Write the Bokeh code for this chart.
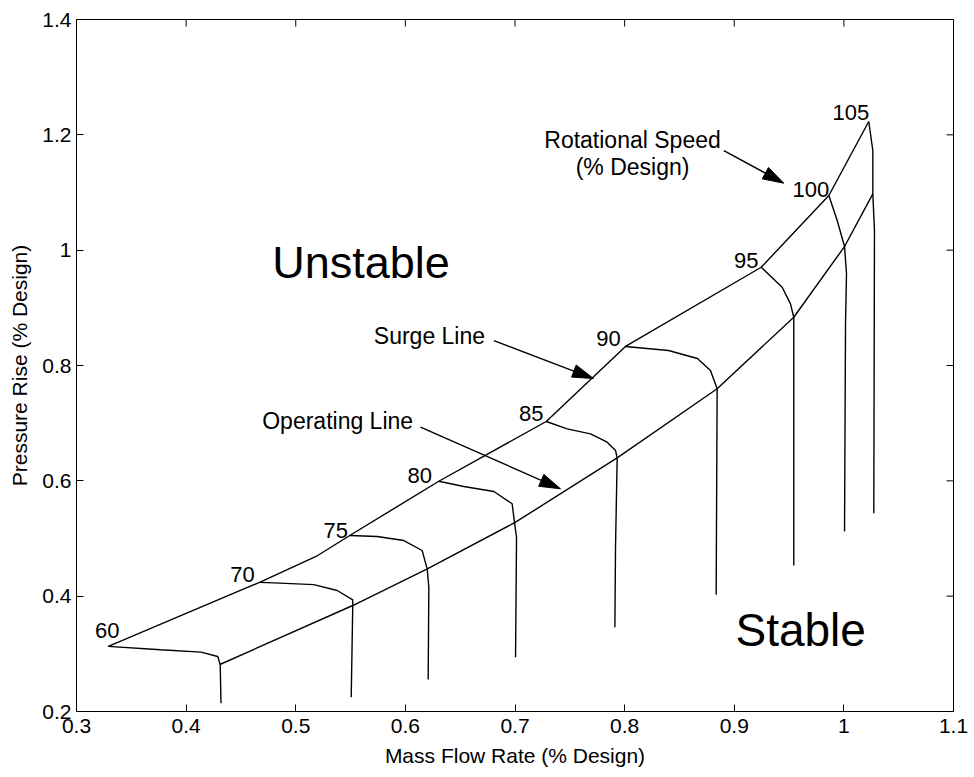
import math
from bokeh.plotting import figure
from bokeh.models import Range1d, FixedTicker, CustomJSTickFormatter
from bokeh.core.properties import value
from bokeh.embed import file_html
from bokeh.resources import INLINE

FONT = "Liberation Sans"

# ---------------- data ----------------
x_ticks = [0.3, 0.4, 0.5, 0.6, 0.7, 0.8, 0.9, 1.0, 1.1]
y_ticks = [0.2, 0.4, 0.6, 0.8, 1.0, 1.2, 1.4]

speeds = ["60", "70", "75", "80", "85", "90", "95", "100", "105"]

n60_x = [0.329, 0.3766, 0.4136, 0.4288, 0.4311, 0.4318]
n60_y = [0.313, 0.307, 0.3029, 0.2954, 0.2815, 0.2144]
n70_x = [0.467, 0.480, 0.5165, 0.5378, 0.552, 0.552, 0.5506]
n70_y = [0.424, 0.423, 0.420, 0.4098, 0.3937, 0.3838, 0.2248]
n75_x = [0.5493, 0.5743, 0.5986, 0.6153, 0.6199, 0.6214, 0.6208]
n75_y = [0.5052, 0.5035, 0.4965, 0.4792, 0.4474, 0.4155, 0.2555]
n80_x = [0.6305, 0.6533, 0.6807, 0.6974, 0.6995, 0.7014, 0.7005]
n80_y = [0.5993, 0.5902, 0.5815, 0.5602, 0.5283, 0.5022, 0.2942]
n85_x = [0.7285, 0.7476, 0.7689, 0.7841, 0.7917, 0.7932, 0.7917, 0.7911]
n85_y = [0.7029, 0.6902, 0.6815, 0.6670, 0.6526, 0.6399, 0.4849, 0.3462]
n90_x = [0.8008, 0.840, 0.8664, 0.8783, 0.8844, 0.8835]
n90_y = [0.833, 0.826, 0.8121, 0.7913, 0.7596, 0.4024]
n95_x = [0.9246, 0.9437, 0.9513, 0.9543, 0.9543]
n95_y = [0.9704, 0.9357, 0.9069, 0.8837, 0.4532]
n100_x = [0.9863, 0.9939, 1.0006, 1.0024, 1.0015, 1.0006]
n100_y = [1.0948, 1.0514, 1.0063, 0.9590, 0.8723, 0.5121]
n105_x = [1.0227, 1.0264, 1.0264, 1.0279, 1.0273]
n105_y = [1.2231, 1.1728, 1.0977, 1.0341, 0.5439]

surge_x = [0.329, 0.467, 0.520, 0.5493, 0.6305, 0.7285, 0.8008, 0.9246, 0.9863, 1.0227]
surge_y = [0.313, 0.424, 0.4705, 0.5052, 0.5993, 0.7029, 0.833, 0.9704, 1.0948, 1.2231]

oper_x = [0.4308, 0.552, 0.620, 0.7005, 0.7932, 0.8844, 0.9543, 1.0006, 1.0264]
oper_y = [0.2815, 0.3838, 0.4474, 0.5283, 0.6399, 0.7596, 0.8837, 1.0063, 1.0977]

speed_xs = [n60_x, n70_x, n75_x, n80_x, n85_x, n90_x, n95_x, n100_x, n105_x]
speed_ys = [n60_y, n70_y, n75_y, n80_y, n85_y, n90_y, n95_y, n100_y, n105_y]

# ---------------- layout / style ----------------
W, H = 974, 777
BL, BR, BT, BB = 76, 21, 19, 66
X0, X1, Y0, Y1 = 0.3, 1.1, 0.2, 1.4
SX = (W - BL - BR) / (X1 - X0)
SY = (H - BT - BB) / (Y1 - Y0)
TICK = 7

p = figure(width=W, height=H, x_range=Range1d(X0, X1), y_range=Range1d(Y0, Y1),
           output_backend="svg", toolbar_location=None,
           min_border_left=BL, min_border_right=BR, min_border_top=BT, min_border_bottom=BB)
p.background_fill_color = "white"
p.border_fill_color = "white"
p.outline_line_color = "black"
p.outline_line_width = 1
p.xgrid.visible = False
p.ygrid.visible = False

fmt = CustomJSTickFormatter(code="return String(Math.round(tick*10)/10);")

for ax in (p.xaxis[0], p.yaxis[0]):
    ax.major_tick_in = TICK
    ax.major_tick_out = 0
    ax.minor_tick_line_color = None
    ax.axis_line_color = "black"
    ax.major_tick_line_color = "black"
    ax.major_label_text_font = FONT
    ax.major_label_text_font_size = "21px"
    ax.major_label_text_color = "black"
    ax.axis_label_text_font = FONT
    ax.axis_label_text_font_style = "normal"
    ax.axis_label_text_font_size = "21px"
    ax.axis_label_text_color = "black"
    ax.formatter = fmt

p.xaxis.ticker = FixedTicker(ticks=x_ticks)
p.yaxis.ticker = FixedTicker(ticks=y_ticks)
p.xaxis.axis_label = "Mass Flow Rate (% Design)"
p.yaxis.axis_label = "Pressure Rise (% Design)"
p.xaxis.major_label_standoff = 7
p.xaxis.axis_label_standoff = 8
p.yaxis.major_label_standoff = 5
p.yaxis.axis_label_standoff = 8

# mirrored inward ticks on top and right edges of the frame
p.segment(x0=x_ticks, y0=[Y1] * len(x_ticks), x1=x_ticks, y1=[Y1 - TICK / SY] * len(x_ticks),
          line_color="black", line_width=1)
p.segment(x0=[X1] * len(y_ticks), y0=y_ticks, x1=[X1 - TICK / SX] * len(y_ticks), y1=y_ticks,
          line_color="black", line_width=1)

LW = 1.4
p.multi_line(xs=speed_xs, ys=speed_ys, line_color="black", line_width=LW)
p.line(surge_x, surge_y, line_color="black", line_width=LW)
p.line(oper_x, oper_y, line_color="black", line_width=LW)

# speed labels, placed near the surge-end of each speed line (pixel offsets)
lab_dx = [-1, -17, -14, -19, -15, -17, -15, -18, -18]
lab_dy = [-16, -8, -5, -6, -8, -8, -7, -6, -9]
p.text(x=[xs[0] for xs in speed_xs], y=[ys[0] for ys in speed_ys], text=speeds,
       x_offset=lab_dx, y_offset=lab_dy,
       text_font=value(FONT), text_font_size="22px", text_color="black",
       text_align="center", text_baseline="middle")

# region texts
p.text(x=[0.4785], y=[0.9791], text=["Unstable"], text_font=value(FONT),
       text_font_size="45px", text_align="left", text_baseline="alphabetic", text_color="black")
p.text(x=[0.9011], y=[0.3405], text=["Stable"], text_font=value(FONT),
       text_font_size="46px", text_align="left", text_baseline="alphabetic", text_color="black")
p.text(x=[0.5712, 0.4694], y=[0.8503, 0.7046], text=["Surge Line", "Operating Line"],
       text_font=value(FONT), text_font_size="23px", text_align="left",
       text_baseline="alphabetic", text_color="black")
p.text(x=[0.8072, 0.8072], y=[1.1913, 1.1438], text=["Rotational Speed", "(% Design)"],
       text_font=value(FONT), text_font_size="23px", text_align="center",
       text_baseline="alphabetic", text_color="black")

# arrows
arrows = [((0.6807, 0.8433), (0.7716, 0.7774)),
          ((0.6138, 0.6930), (0.7415, 0.5862)),
          ((0.8905, 1.1728), (0.9452, 1.1161))]

def head(x0, y0, x1, y1, L=21.0, Wh=6.5):
    px0, py0, px1, py1 = x0 * SX, y0 * SY, x1 * SX, y1 * SY
    dx, dy = px1 - px0, py1 - py0
    n = math.hypot(dx, dy)
    ux, uy = dx / n, dy / n
    bx, by = px1 - L * ux, py1 - L * uy
    pts = [(px1, py1), (bx - Wh * uy, by + Wh * ux), (bx + Wh * uy, by - Wh * ux)]
    return [q[0] / SX for q in pts], [q[1] / SY for q in pts], bx / SX, by / SY

hx, hy = [], []
sx0, sy0, sx1, sy1 = [], [], [], []
for (a, b) in arrows:
    xs, ys, bx, by = head(a[0], a[1], b[0], b[1])
    hx.append(xs)
    hy.append(ys)
    sx0.append(a[0]); sy0.append(a[1]); sx1.append(bx); sy1.append(by)
p.segment(x0=sx0, y0=sy0, x1=sx1, y1=sy1, line_color="black", line_width=LW)
p.patches(xs=hx, ys=hy, fill_color="black", line_color="black", line_width=1)

open("out.html", "w").write(file_html(p, INLINE))
